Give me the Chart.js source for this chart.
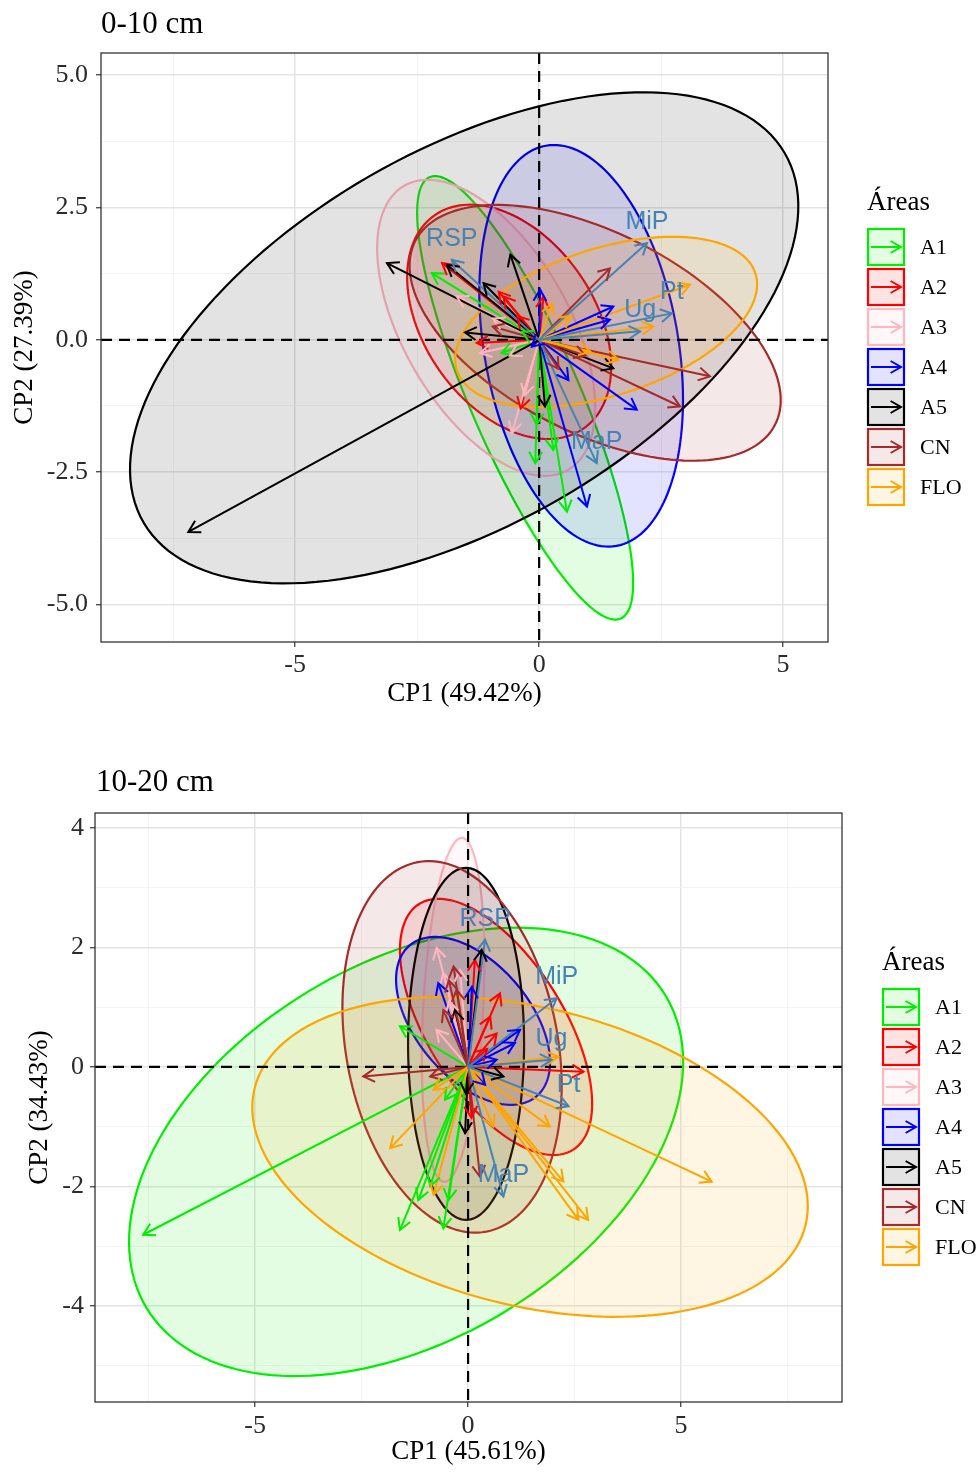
<!DOCTYPE html>
<html>
<head>
<meta charset="utf-8">
<script src="https://cdn.jsdelivr.net/npm/chart.js@4.4.1/dist/chart.umd.min.js"></script>
<style>
  html, body { margin: 0; padding: 0; background: #fff; }
  #wrap { position: relative; width: 979px; height: 1472px; }
  canvas { position: absolute; left: 0; }
</style>
</head>
<body>
<div id="wrap">
  <canvas id="top" width="979" height="736" style="top:0px"></canvas>
  <canvas id="bot" width="979" height="736" style="top:736px"></canvas>
</div>
<script>
const groups = ['A1', 'A2', 'A3', 'A4', 'A5', 'CN', 'FLO']
const groupColors = ['#00EE00', '#FF0000', '#FFB6C1', '#0000FF', '#000000', '#A52A2A', '#FFA500']
const varNames = ['RSP', 'MiP', 'Pt', 'Ug', 'MaP']
const varColor = '#4682B4'

// ---- 0-10 cm : arrow tips (CP1, CP2) per area ----
const topA1 = [[-2.20, 1.26], [-0.77, -0.25], [-0.08, -2.33], [0.29, -2.08], [0.57, -3.25], [-0.05, -1.60], [-0.35, 0.15]]
const topA2 = [[-1.99, 1.45], [-0.83, 0.91], [-0.73, 0.82], [0.09, 0.82], [-1.28, -0.06], [-0.45, 0.45], [-0.38, -1.30]]
const topA3 = [[-1.69, 0.82], [-1.21, -0.25], [-0.56, -1.76], [-0.30, -1.05], [-0.95, 0.40], [-0.60, -0.30]]
const topA4 = [[0.02, 0.95], [0.60, -0.76], [2.00, -1.32], [0.98, -3.15], [1.52, 0.63], [1.45, 0.38], [-0.15, -0.13]]
const topA5 = [[-7.19, -3.63], [-3.12, 1.45], [-1.89, 1.42], [-1.14, 1.07], [-0.59, 1.61], [-1.52, 0.14], [0.12, -1.26], [1.52, -0.54]]
const topCN = [[3.50, -0.69], [2.89, -1.26], [1.45, 1.35], [0.95, -0.30], [-0.95, 0.25], [0.40, -0.55]]
const topFLO = [[3.09, 1.04], [2.34, 0.25], [1.63, -0.38], [0.26, 0.69], [1.05, -0.22], [0.65, 0.45]]
const topVarX = [-1.79, 2.21, 2.72, 2.07, 1.18]
const topVarY = [1.51, 1.83, 0.50, 0.16, -2.33]
// ellipses: centre + two conjugate semi-axes (data units), order A1..FLO
const topEllCx = [-0.287, -0.615, -1.086, 0.861, -1.537, 1.148, 1.373]
const topEllCy = [-1.096, 0.340, 0.227, -0.113, 0.038, 0.132, 0.340]
const topEllUx = [1.958, 1.529, 1.680, 0.723, 6.566, 3.688, 3.059]
const topEllUy = [-4.170, -2.013, -2.684, -3.781, 3.497, -1.734, 0.917]
const topEllVx = [1.033, 1.426, 1.473, 1.958, -1.947, 0.930, -0.465]
const topEllVy = [0.412, 0.922, 0.785, 0.319, 3.050, 1.684, 1.320]
const topXMajor = [-5, 0, 5]
const topXMinor = [-7.5, -2.5, 2.5]
const topYMajor = [-5, -2.5, 0, 2.5, 5]
const topYMinor = [-3.75, -1.25, 1.25, 3.75]

// ---- 10-20 cm ----
const botA1 = [[-7.63, -2.81], [-1.60, 0.68], [-1.60, -2.73], [-0.58, -2.70], [-1.17, -2.23], [-0.46, -2.23], [-0.54, -0.55], [-0.89, -2.00]]
const botA2 = [[2.71, -0.08], [0.75, 1.23], [0.52, 0.84], [0.67, 0.56], [0.16, 1.79], [0.45, 0.30], [0.08, -0.85]]
const botA3 = [[-0.74, 1.99], [-0.58, 1.57], [-0.19, 1.62], [-0.74, 0.62], [-0.45, 1.10]]
const botA4 = [[-0.70, 1.40], [0.09, 1.34], [1.10, 0.40], [1.22, 0.62], [0.67, 0.12], [0.40, -0.30]]
const botA5 = [[0.32, 1.96], [-0.07, -1.11], [0.83, -0.16], [-0.31, 0.95], [-0.05, -0.45]]
const botCN = [[-2.46, -0.16], [-0.34, 1.68], [-0.58, 0.95], [-0.27, 1.29], [-0.89, -0.16], [0.28, -1.84], [-0.45, 1.45]]
const botFLO = [[5.72, -1.92], [2.82, -2.56], [2.59, -2.56], [2.24, -1.92], [1.92, -1.00], [0.59, -1.00], [-1.83, -1.36], [-0.81, -2.14], [2.12, 0.17], [-0.81, -0.38]]
const botVarX = [0.40, 2.08, 2.36, 1.96, 0.83]
const botVarY = [2.13, 1.15, -0.66, 0.12, -2.17]
const botEllCx = [-1.455, 0.657, -0.352, 0.117, -0.047, -0.376, 1.455]
const botEllCy = [-1.423, 0.669, 0.954, 0.770, 0.385, 0.335, -1.506]
const botEllUx = [6.096, 1.805, -0.211, 1.488, 0, 0.803, 6.467]
const botEllUy = [2.611, -2.058, -2.879, -1.264, -2.946, -3.093, -1.150]
const botEllVx = [-2.272, 1.354, 0.704, 1.026, 1.362, 2.446, 0.847]
const botEllVy = [2.696, 0.603, -0.025, 0.614, 0, 0.323, 2.418]
const botXMajor = [-5, 0, 5]
const botXMinor = [-7.5, -2.5, 2.5, 7.5]
const botYMajor = [-4, -2, 0, 2, 4]
const botYMinor = [-5, -3, -1, 1, 3]

const serif = "'Liberation Serif', 'Times New Roman', serif"
const sans = "'Liberation Sans', Arial, sans-serif"

function rgba(hex, a) {
  const n = parseInt(hex.slice(1), 16)
  return `rgba(${n >> 16}, ${(n >> 8) & 255}, ${n & 255}, ${a})`
}

function drawHead(ctx, x0, y0, x1, y1, color, len) {
  const ang = Math.atan2(y1 - y0, x1 - x0)
  ctx.beginPath()
  ctx.moveTo(x1 - len * Math.cos(ang - Math.PI / 6), y1 - len * Math.sin(ang - Math.PI / 6))
  ctx.lineTo(x1, y1)
  ctx.lineTo(x1 - len * Math.cos(ang + Math.PI / 6), y1 - len * Math.sin(ang + Math.PI / 6))
  ctx.strokeStyle = color
  ctx.stroke()
}

function makeBiplot(s) {
  return {
    id: 'biplot',
    beforeDatasetsDraw(chart) {
      const { ctx, chartArea: a, scales: { x, y } } = chart
      ctx.save()
      ctx.beginPath()
      ctx.rect(a.left, a.top, a.right - a.left, a.bottom - a.top)
      ctx.clip()
      s.ell.cx.forEach((cx, i) => {
        ctx.beginPath()
        for (let k = 0; k <= 160; k++) {
          const t = k / 160 * 2 * Math.PI
          const px = x.getPixelForValue(cx + s.ell.ux[i] * Math.cos(t) + s.ell.vx[i] * Math.sin(t))
          const py = y.getPixelForValue(s.ell.cy[i] + s.ell.uy[i] * Math.cos(t) + s.ell.vy[i] * Math.sin(t))
          if (k) ctx.lineTo(px, py); else ctx.moveTo(px, py)
        }
        ctx.closePath()
        ctx.fillStyle = rgba(groupColors[i], 0.11)
        ctx.fill()
        ctx.strokeStyle = groupColors[i]
        ctx.lineWidth = 2.2
        ctx.stroke()
      })
      // zero lines
      const x0 = x.getPixelForValue(0)
      const y0 = y.getPixelForValue(0)
      ctx.setLineDash([11, 7])
      ctx.lineWidth = 2.2
      ctx.strokeStyle = '#000'
      ctx.beginPath()
      ctx.moveTo(a.left, y0); ctx.lineTo(a.right, y0)
      ctx.moveTo(x0, a.top); ctx.lineTo(x0, a.bottom)
      ctx.stroke()
      ctx.restore()
    },
    afterDatasetsDraw(chart) {
      const { ctx, chartArea: a } = chart
      ctx.save()
      ctx.lineWidth = 2
      chart.data.datasets.forEach((ds, i) => {
        const pts = chart.getDatasetMeta(i).data
        drawHead(ctx, pts[0].x, pts[0].y, pts[1].x, pts[1].y, ds.borderColor, 13)
      })
      // variable labels
      ctx.font = `25px ${sans}`
      ctx.fillStyle = varColor
      ctx.textAlign = 'center'
      ctx.textBaseline = 'middle'
      chart.data.datasets.forEach((ds, i) => {
        if (!ds.varLabel) return
        const p = chart.getDatasetMeta(i).data[1]
        ctx.fillText(ds.varLabel, p.x, p.y - 21)
      })
      ctx.strokeStyle = '#333'
      ctx.lineWidth = 1.3
      ctx.strokeRect(a.left, a.top, a.right - a.left, a.bottom - a.top)
      ctx.restore()
    },
    afterDraw(chart) {
      const { ctx, chartArea: a } = chart
      ctx.save()
      ctx.fillStyle = '#000'
      ctx.textBaseline = 'middle'
      ctx.textAlign = 'left'
      ctx.font = `31px ${serif}`
      ctx.fillText(s.title, s.titleX, s.titleY)
      ctx.font = `27px ${serif}`
      ctx.textAlign = 'center'
      ctx.fillText(s.xTitle, (a.left + a.right) / 2, s.xTitleY)
      ctx.save()
      ctx.translate(s.yTitleX, (a.top + a.bottom) / 2)
      ctx.rotate(-Math.PI / 2)
      ctx.fillText(s.yTitle, 0, 0)
      ctx.restore()
      // legend
      ctx.textAlign = 'left'
      ctx.font = `27px ${serif}`
      ctx.fillText('Áreas', s.legX, s.legTitleY)
      ctx.font = `22px ${serif}`
      groups.forEach((g, i) => {
        const bx = s.legX, by = s.legTop + i * 40
        ctx.fillStyle = rgba(groupColors[i], 0.11)
        ctx.fillRect(bx, by, 38, 38)
        ctx.strokeStyle = groupColors[i]
        ctx.lineWidth = 2.2
        ctx.strokeRect(bx + 1, by + 1, 36, 36)
        ctx.lineWidth = 2
        ctx.beginPath()
        ctx.moveTo(bx + 4, by + 19); ctx.lineTo(bx + 34, by + 19)
        ctx.stroke()
        drawHead(ctx, bx + 4, by + 19, bx + 34, by + 19, groupColors[i], 12)
        ctx.fillStyle = '#000'
        ctx.fillText(g, bx + 53, by + 20)
      })
      ctx.restore()
    }
  }
}

function axisOpts(min, max, major, minor, fmt, pad, size) {
  const isMajor = c => c.tick && major.includes(c.tick.value)
  return {
    type: 'linear',
    min: min,
    max: max,
    afterBuildTicks: sc => {
      sc.ticks = major.concat(minor).sort((p, q) => p - q).map(v => ({ value: v }))
    },
    afterFit: sc => {
      if (sc.isHorizontal()) sc.height = size
      else sc.width = size
    },
    ticks: {
      autoSkip: false,
      maxRotation: 0,
      padding: pad,
      color: '#2b2b2b',
      font: { family: serif, size: 26 },
      callback: v => major.includes(v) ? fmt(v) : ''
    },
    grid: {
      color: c => isMajor(c) ? '#e3e3e3' : '#f0f0f0',
      lineWidth: c => isMajor(c) ? 1.5 : 0.8,
      tickColor: c => isMajor(c) ? '#333' : 'rgba(0,0,0,0)',
      tickLength: 5,
      tickWidth: 1.2
    },
    border: { display: false }
  }
}

function buildChart(id, s) {
  const datasets = []
  s.arrows.forEach((list, gi) => {
    list.forEach(p => datasets.push({
      data: [{ x: 0, y: 0 }, { x: p[0], y: p[1] }],
      borderColor: groupColors[gi],
      borderWidth: 2,
      showLine: true,
      pointRadius: 0,
      order: -gi
    }))
  })
  s.varX.forEach((vx, i) => datasets.push({
    data: [{ x: 0, y: 0 }, { x: vx, y: s.varY[i] }],
    borderColor: varColor,
    borderWidth: 2,
    showLine: true,
    pointRadius: 0,
    order: -10,
    varLabel: varNames[i]
  }))
  return new Chart(document.getElementById(id), {
    type: 'scatter',
    data: { datasets },
    options: {
      responsive: false,
      animation: false,
      events: [],
      layout: { padding: s.pad },
      plugins: { legend: { display: false }, tooltip: { enabled: false } },
      scales: {
        x: axisOpts(s.xMin, s.xMax, s.xMajor, s.xMinor, s.xFmt, s.xPad, s.xSize),
        y: axisOpts(s.yMin, s.yMax, s.yMajor, s.yMinor, s.yFmt, s.yPad, s.ySize)
      }
    },
    plugins: [makeBiplot(s)]
  })
}

buildChart('top', {
  arrows: [topA1, topA2, topA3, topA4, topA5, topCN, topFLO],
  varX: topVarX, varY: topVarY,
  ell: { cx: topEllCx, cy: topEllCy, ux: topEllUx, uy: topEllUy, vx: topEllVx, vy: topEllVy },
  xMin: -8.98, xMax: 5.92, yMin: -5.71, yMax: 5.42,
  xMajor: topXMajor, xMinor: topXMinor, yMajor: topYMajor, yMinor: topYMinor,
  xFmt: v => String(v), yFmt: v => v.toFixed(1),
  pad: { left: 0, top: 53, right: 151, bottom: 0 },
  xPad: 3, yPad: 8, xSize: 94, ySize: 101,
  title: '0-10 cm', titleX: 101, titleY: 25,
  xTitle: 'CP1 (49.42%)', xTitleY: 694,
  yTitle: 'CP2 (27.39%)', yTitleX: 25,
  legX: 867, legTitleY: 203, legTop: 228
})

buildChart('bot', {
  arrows: [botA1, botA2, botA3, botA4, botA5, botCN, botFLO],
  varX: botVarX, varY: botVarY,
  ell: { cx: botEllCx, cy: botEllCy, ux: botEllUx, uy: botEllUy, vx: botEllVx, vy: botEllVy },
  xMin: -8.76, xMax: 8.78, yMin: -5.61, yMax: 4.25,
  xMajor: botXMajor, xMinor: botXMinor, yMajor: botYMajor, yMinor: botYMinor,
  xFmt: v => String(v), yFmt: v => String(v),
  pad: { left: 0, top: 77, right: 137, bottom: 0 },
  xPad: 4, yPad: 6, xSize: 70, ySize: 95,
  title: '10-20 cm', titleX: 96, titleY: 47,
  xTitle: 'CP1 (45.61%)', xTitleY: 716,
  yTitle: 'CP2 (34.43%)', yTitleX: 40,
  legX: 882, legTitleY: 227, legTop: 252
})
</script>
</body>
</html>
